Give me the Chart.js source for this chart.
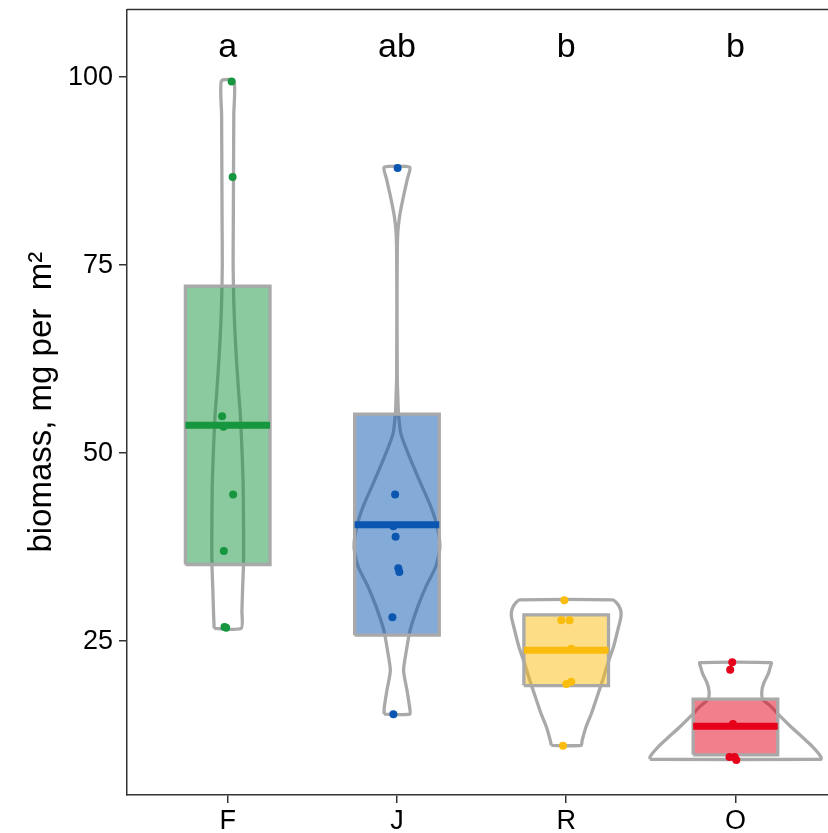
<!DOCTYPE html>
<html><head><meta charset="utf-8">
<script src="https://cdn.jsdelivr.net/npm/chart.js@4.4.0/dist/chart.umd.min.js"></script>
<style>
html,body{margin:0;padding:0;overflow:hidden;background:#fff;width:828px;height:833px}
#wrap{width:828px;height:833px;overflow:hidden;position:relative}
canvas{display:block}
</style></head>
<body><div id="wrap"><canvas id="c" width="841" height="833"></canvas></div>
<script>
// ---------- data ----------
const categories = ['F', 'J', 'R', 'O'];
const letters = ['a', 'ab', 'b', 'b'];
const letterLevel = 102.6;
const yTicks = [25, 50, 75, 100];
const colors = ['#16963e', '#0a56b0', '#fbbd0d', '#e6001a'];

// box (crossbar) low / high / centre line
const boxLow  = [35.2, 25.8, 19.1, 9.9];
const boxHigh = [72.2, 55.2, 28.5, 17.3];
const boxMid  = [53.7, 40.5, 23.8, 13.7];

// individual observations
const pointsF = [99.4, 86.7, 54.9, 53.5, 44.5, 37.0, 26.9, 26.8];
const pointsJ = [87.9, 44.5, 40.3, 38.9, 34.7, 34.2, 28.2, 15.3];
const pointsR = [30.45, 27.8, 27.8, 24.0, 19.3, 19.6, 11.1];
const pointsO = [22.2, 21.2, 14.0, 9.6, 9.6, 9.2];
// horizontal jitter of the observations (category units)
const jitterF = [0.023, 0.029, -0.033, -0.025, 0.032, -0.023, -0.019, -0.009];
const jitterJ = [0.004, -0.011, -0.021, -0.008, 0.008, 0.014, -0.027, -0.021];
const jitterR = [-0.011, -0.029, 0.020, 0.030, 0.001, 0.030, -0.019];
const jitterO = [-0.019, -0.031, -0.015, -0.035, -0.005, 0.005];

// violin profiles: [value, half-width in category units], bottom to top
const densF = [[26.7,.080],[29,.084],[32,.088],[35,.093],[38,.094],[42,.093],[46,.091],[50,.085],
  [55,.075],[58,.065],[62,.053],[66,.043],[70,.036],[75,.032],[80,.033],[85,.034],[90,.035],[95,.036],[99.5,.037]];
const densJ = [[15.3,.076],[16.2,.075],[18.5,.059],[21.1,.039],[23.8,.056],[26.5,.078],[29.6,.123],[32.2,.170],
  [34.9,.229],[37.5,.254],[40.2,.238],[42.9,.200],[46.4,.132],[50,.065],[52.6,.023],[55.3,.009],[57,.006],
  [60,.002],[70,.0006],[77,.002],[79.6,.006],[81.4,.015],[83,.028],[84.5,.042],[86.5,.062],[88.0,.076]];
const densR = [[11.15,.088],[11.8,.094],[13.6,.117],[15.4,.149],[17.6,.182],[19.8,.215],[22.0,.245],[24.3,.280],
  [26.5,.305],[28.2,.323],[29.0,.323],[29.7,.311],[30.2,.294],[30.5,.276]];
const densO = [[9.3,.505],[9.6,.505],[10.1,.490],[11.0,.455],[12.3,.393],[13.6,.329],[15.3,.252],[16.3,.211],
  [17.3,.161],[18.4,.156],[19.4,.167],[20.7,.194],[21.6,.206],[22.15,.211]];

// ---------- build datasets ----------
const groups = [
  {values: pointsF, jitter: jitterF, dens: densF},
  {values: pointsJ, jitter: jitterJ, dens: densJ},
  {values: pointsR, jitter: jitterR, dens: densR},
  {values: pointsO, jitter: jitterO, dens: densO}
];
function rgba(hex, a) {
  const n = parseInt(hex.slice(1), 16);
  return `rgba(${(n >> 16) & 255},${(n >> 8) & 255},${n & 255},${a})`;
}
const OUTLINE = '#a9a9a9';
const HALF_BOX = 0.25;
const datasets = [];
groups.forEach((g, i) => {
  const c = i + 1;
  const left = g.dens.map(([v, w]) => ({x: c - w, y: v}));
  const right = g.dens.slice().reverse().map(([v, w]) => ({x: c + w, y: v}));
  const poly = left.concat(right);
  poly.push(left[0]);
  datasets.push({type: 'line', data: poly, borderColor: OUTLINE, borderWidth: 3.3, pointRadius: 0,
    fill: false, tension: 0.2, order: 4, showLine: true, borderJoinStyle: 'round'});
  datasets.push({type: 'line', data: [
      {x: c - HALF_BOX, y: boxLow[i]}, {x: c - HALF_BOX, y: boxHigh[i]},
      {x: c + HALF_BOX, y: boxHigh[i]}, {x: c + HALF_BOX, y: boxLow[i]}, {x: c - HALF_BOX, y: boxLow[i]}],
    borderColor: OUTLINE, borderWidth: 3.3, backgroundColor: rgba(colors[i], 0.5), fill: 'shape',
    pointRadius: 0, tension: 0, order: 3, showLine: true, borderJoinStyle: 'miter'});
  datasets.push({type: 'scatter', data: g.values.map((v, k) => ({x: c + g.jitter[k], y: v})),
    backgroundColor: colors[i], borderWidth: 0, pointRadius: 4, order: 2});
  datasets.push({type: 'line', data: [{x: c - HALF_BOX, y: boxMid[i]}, {x: c + HALF_BOX, y: boxMid[i]}],
    borderColor: colors[i], borderWidth: 7, pointRadius: 0, order: 1, showLine: true, borderCapStyle: 'butt'});
});

const FONT = '"Liberation Sans", Arial, sans-serif';
const extras = {
  id: 'extras',
  afterDatasetsDraw(chart) {
    const {ctx, scales: {x, y}} = chart;
    ctx.save();
    ctx.font = `34px ${FONT}`;
    ctx.fillStyle = '#000';
    ctx.textAlign = 'center';
    ctx.textBaseline = 'alphabetic';
    letters.forEach((t, i) => ctx.fillText(t, x.getPixelForValue(i + 1), y.getPixelForValue(letterLevel)));
    ctx.restore();
  },
  afterDraw(chart) {
    const {ctx, chartArea: a} = chart;
    ctx.save();
    ctx.strokeStyle = '#333';
    ctx.lineWidth = 1.5;
    ctx.beginPath();
    ctx.moveTo(a.left, a.top); ctx.lineTo(a.right, a.top); ctx.lineTo(a.right, a.bottom);
    ctx.stroke();
    ctx.restore();
  }
};

new Chart(document.getElementById('c'), {
  type: 'scatter',
  data: {datasets},
  plugins: [extras],
  options: {
    responsive: false, animation: false, devicePixelRatio: 1,
    layout: {padding: {top: 9.5, right: 0, left: 0, bottom: 0}},
    plugins: {legend: {display: false}, tooltip: {enabled: false}},
    scales: {
      x: {
        type: 'linear', min: 0.405, max: 4.6,
        afterBuildTicks: s => { s.ticks = categories.map((_, i) => ({value: i + 1})); },
        afterFit: s => { s.height = 38; s.paddingLeft = 0; s.paddingRight = 0; },
        ticks: {callback: (v) => categories[v - 1], font: {size: 27, family: FONT}, color: '#000', padding: 2, maxRotation: 0, autoSkip: false},
        grid: {drawOnChartArea: false, drawTicks: true, tickLength: 8, color: '#333', lineWidth: 1.5},
        border: {display: true, color: '#333', width: 1.5}
      },
      y: {
        type: 'linear', min: 4.56, max: 108.98,
        afterBuildTicks: s => { s.ticks = yTicks.map(v => ({value: v})); },
        afterFit: s => { s.width = 127; s.paddingTop = 0; s.paddingBottom = 0; },
        ticks: {font: {size: 27, family: FONT}, color: '#000', padding: 6},
        grid: {drawOnChartArea: false, drawTicks: true, tickLength: 8, color: '#333', lineWidth: 1.5},
        border: {display: true, color: '#333', width: 1.5},
        title: {display: true, text: 'biomass, mg per  m\u00B2', font: {size: 33, family: FONT}, color: '#000', padding: {top: 22, bottom: 0}}
      }
    }
  }
});
</script>
</body></html>
